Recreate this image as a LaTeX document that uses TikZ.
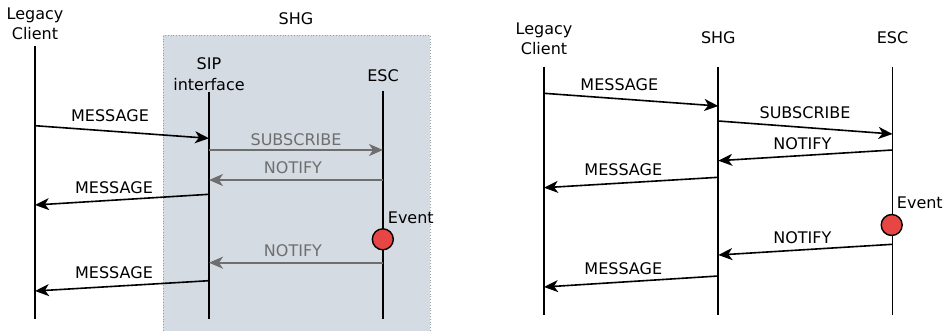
\documentclass[tikz,border=0pt]{standalone}
\usepackage{fontspec}
\setmainfont{DejaVu Sans}
\usetikzlibrary{arrows.meta}
\definecolor{boxfill}{HTML}{D5DBE3}
\definecolor{boxedge}{HTML}{9A9FA6}
\definecolor{msggray}{HTML}{6E6E6E}
\definecolor{eventred}{HTML}{E84545}
\tikzset{
  lbl/.style={anchor=base, inner sep=0pt, font=\fontsize{16}{19}\selectfont},
  lblw/.style={lbl, anchor=base west},
  glbl/.style={lbl, text=msggray},
  life/.style={line width=1.8pt, black},
  msg/.style={line width=1.6pt, black, -{Stealth[length=14pt,width=12pt,inset=4pt]}},
  gmsg/.style={line width=1.6pt, msggray, -{Stealth[length=14pt,width=12pt,inset=4pt]}},
  eventdot/.style={circle, draw=black, line width=1.4pt, fill=eventred, minimum size=21pt, inner sep=0pt}
}
\begin{document}
\begin{tikzpicture}[x=1pt, y=-1pt]
\useasboundingbox (0,0) rectangle (949,330);

% ---------------- left: gateway with internal components ----------------
\node[draw=boxedge, dotted, fill=boxfill, line width=0.8pt, minimum width=267pt, minimum height=300pt, anchor=north west, inner sep=0pt] (gw) at (163,35) {};
\node[lbl] (gwlabel) at (296,24) {SHG};

\node[lbl] (lcA) at (35,19) {Legacy};
\node[lbl] (lcB) at (35,39) {Client};
\node[lbl] (sipA) at (209,69) {SIP};
\node[lbl] (sipB) at (209,90) {interface};
\node[lbl] (escL) at (383,81) {ESC};

\coordinate (lcTop) at (35,45.7);   \coordinate (lcBot) at (35,318.5);
\coordinate (sipTop) at (209,91.7); \coordinate (sipBot) at (209,319);
\coordinate (escTop) at (383,90.7); \coordinate (escBot) at (383,319);
\draw[life] (lcTop) -- (lcBot);
\draw[life] (sipTop) -- (sipBot);
\draw[life] (escTop) -- (escBot);

% message endpoints
\coordinate (a1) at (35,125.7);  \coordinate (b1) at (209,138.3);
\coordinate (a2) at (209,150);   \coordinate (b2) at (383,150);
\coordinate (a3) at (383,180);   \coordinate (b3) at (209,180);
\coordinate (a4) at (209,194.3); \coordinate (b4) at (35,205);
\coordinate (a5) at (383,262.7); \coordinate (b5) at (209,262.7);
\coordinate (a6) at (209,280.7); \coordinate (b6) at (35,291);

\draw[msg] (a1) -- (b1);
\node[lbl] (t1) at (110,121.7) {MESSAGE};
\draw[gmsg] (a2) -- (b2);
\node[glbl] (t2) at (296,145) {SUBSCRIBE};
\draw[gmsg] (a3) -- (b3);
\node[glbl] (t3) at (293,173.3) {NOTIFY};
\draw[msg] (a4) -- (b4);
\node[lbl] (t4) at (114,193.3) {MESSAGE};

\node[eventdot] (ev) at (382.8,239.3) {};
\node[lblw] (evL) at (387.7,223) {Event};

\draw[gmsg] (a5) -- (b5);
\node[glbl] (t5) at (293,256.7) {NOTIFY};
\draw[msg] (a6) -- (b6);
\node[lbl] (t6) at (114,278.3) {MESSAGE};

% ---------------- right: gateway as a single entity ----------------
\node[lbl] (rlcA) at (544,34) {Legacy};
\node[lbl] (rlcB) at (544,54) {Client};
\node[lbl] (rshg) at (718.3,43.3) {SHG};
\node[lbl] (resc) at (892.5,43.3) {ESC};

\coordinate (rlcTop) at (544,66.7);    \coordinate (rlcBot) at (544,315);
\coordinate (rshgTop) at (718.3,66.7); \coordinate (rshgBot) at (718.3,315);
\coordinate (rescTop) at (892.5,66.7); \coordinate (rescBot) at (892.5,315);
\draw[life] (rlcTop) -- (rlcBot);
\draw[life] (rshgTop) -- (rshgBot);
\draw[life] (rescTop) -- (rescBot);

\coordinate (c1) at (544,93.3);    \coordinate (d1) at (718.3,106);
\coordinate (c2) at (718.3,121);   \coordinate (d2) at (892.5,134);
\coordinate (c3) at (892.5,150);   \coordinate (d3) at (718.3,160.7);
\coordinate (c4) at (718.3,177.3); \coordinate (d4) at (544,187.7);
\coordinate (c5) at (892.5,244.3); \coordinate (d5) at (718.3,255);
\coordinate (c6) at (718.3,276);   \coordinate (d6) at (544,287);

\draw[msg] (c1) -- (d1);
\node[lbl] (r1) at (619.3,90) {MESSAGE};
\draw[msg] (c2) -- (d2);
\node[lbl] (r2) at (805,118.3) {SUBSCRIBE};
\draw[msg] (c3) -- (d3);
\node[lbl] (r3) at (802.3,149) {NOTIFY};
\draw[msg] (c4) -- (d4);
\node[lbl] (r4) at (623.3,175) {MESSAGE};

\node[eventdot] (rev) at (891.7,225) {};
\node[lblw] (revL) at (896.7,208.3) {Event};

\draw[msg] (c5) -- (d5);
\node[lbl] (r5) at (802.3,243.3) {NOTIFY};
\draw[msg] (c6) -- (d6);
\node[lbl] (r6) at (623.3,274.3) {MESSAGE};
\end{tikzpicture}
\end{document}
